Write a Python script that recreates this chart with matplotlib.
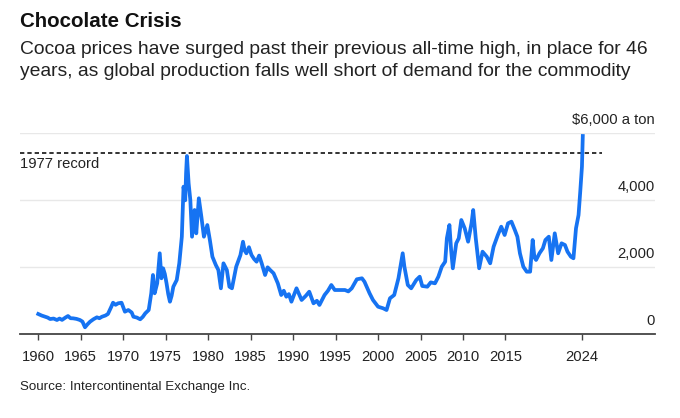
import matplotlib
matplotlib.use("Agg")
import matplotlib.pyplot as plt
import matplotlib.transforms as mtransforms

plt.rcParams['font.family'] = ['Liberation Sans', 'DejaVu Sans']

# ---- data ----
years = [1960.0, 1960.4, 1960.8, 1961.1, 1961.4, 1961.8, 1962.2, 1962.5, 1962.8, 1963.2,
         1963.5, 1963.8, 1964.1, 1964.5, 1964.9, 1965.2, 1965.5, 1965.8, 1966.1, 1966.5,
         1966.9, 1967.2, 1967.5, 1967.9, 1968.2, 1968.6, 1968.8, 1969.1, 1969.4, 1969.8,
         1970.2, 1970.6, 1971.0, 1971.2, 1971.6, 1972.0, 1972.3, 1972.6, 1973.0, 1973.3,
         1973.5, 1973.7, 1974.0, 1974.3, 1974.5, 1974.7, 1974.9, 1975.1, 1975.3, 1975.5,
         1975.7, 1975.9, 1976.3, 1976.6, 1976.9, 1977.1, 1977.3, 1977.4, 1977.5, 1977.7,
         1977.9, 1978.1, 1978.4, 1978.6, 1978.9, 1979.2, 1979.5, 1979.9, 1980.2, 1980.5,
         1980.9, 1981.2, 1981.5, 1981.8, 1982.2, 1982.5, 1982.8, 1983.3, 1983.8, 1984.1,
         1984.3, 1984.5, 1984.8, 1985.1, 1985.4, 1985.7, 1986.0, 1986.3, 1986.7, 1987.0,
         1987.3, 1987.7, 1988.2, 1988.6, 1988.9, 1989.2, 1989.5, 1989.8, 1990.4, 1991.0,
         1991.5, 1991.9, 1992.4, 1992.8, 1993.1, 1993.7, 1994.1, 1994.5, 1994.9, 1995.5,
         1996.1, 1996.5, 1996.9, 1997.5, 1998.1, 1998.4, 1999.0, 1999.4, 2000.0, 2000.6,
         2001.0, 2001.4, 2001.9, 2002.4, 2002.9, 2003.1, 2003.5, 2003.9, 2004.5, 2004.9,
         2005.2, 2005.8, 2006.2, 2006.7, 2007.1, 2007.5, 2007.9, 2008.1, 2008.4, 2008.6,
         2008.8, 2009.2, 2009.5, 2009.8, 2010.2, 2010.6, 2011.0, 2011.2, 2011.5, 2011.9,
         2012.3, 2012.8, 2013.2, 2013.6, 2014.1, 2014.5, 2014.9, 2015.3, 2015.7, 2016.1,
         2016.4, 2016.7, 2017.1, 2017.5, 2017.9, 2018.2, 2018.4, 2018.6, 2019.0, 2019.4,
         2019.7, 2020.1, 2020.4, 2020.8, 2021.2, 2021.6, 2022.0, 2022.3, 2022.7, 2023.0,
         2023.3, 2023.6, 2023.8, 2024.0, 2024.1]
prices = [606, 560, 525, 500, 456, 470, 427, 470, 430, 500,
          546, 480, 477, 460, 427, 380, 209, 300, 377, 450,
          507, 480, 525, 560, 606, 824, 943, 880, 925, 943,
          675, 725, 650, 525, 500, 448, 520, 627, 725, 1224,
          1770, 1224, 1522, 2418, 1672, 1970, 1800, 1522, 1200, 973,
          1150, 1421, 1621, 2119, 2913, 4406, 4000, 4806, 5322, 4507,
          4009, 2913, 3710, 3014, 4060, 3510, 2913, 3262, 2815, 2316,
          2069, 1919, 1373, 2119, 1919, 1421, 1373, 2018, 2367, 2764,
          2500, 2418, 2600, 2367, 2250, 2167, 2350, 2119, 1770, 2000,
          1919, 1821, 1522, 1173, 1300, 1122, 1200, 973, 1373, 1024,
          1150, 1272, 925, 1000, 875, 1173, 1300, 1472, 1322, 1322,
          1322, 1280, 1373, 1642, 1672, 1570, 1224, 1024, 824, 776,
          725, 1075, 1173, 1672, 2418, 2018, 1472, 1373, 1621, 1720,
          1442, 1421, 1550, 1522, 1720, 2018, 2167, 2866, 3262, 2516,
          1970, 2716, 2866, 3412, 3164, 2764, 3313, 3710, 2866, 1970,
          2466, 2316, 2119, 2615, 2964, 3212, 2964, 3313, 3362, 3113,
          2913, 2418, 2018, 1869, 1869, 2815, 2300, 2218, 2418, 2567,
          2815, 2913, 2218, 3014, 2418, 2716, 2665, 2466, 2316, 2269,
          3164, 3560, 4257, 5003, 5919]

record_1977 = 5400
x_ticks = [1960, 1965, 1970, 1975, 1980, 1985, 1990, 1995, 2000, 2005, 2010, 2015, 2024]
x_tick_labels = ['1960', '1965', '1970', '1975', '1980', '1985', '1990', '1995', '2000',
                 '2005', '2010', '2015', '2024']
y_grid = [0, 2000, 4000, 6000]
y_labels = ['0', '2,000', '4,000', '$6,000 a ton']

W, H = 680, 418
fig = plt.figure(figsize=(W / 100, H / 100), dpi=100)
fig.patch.set_facecolor('white')

ax_left, ax_right = 20, 655
ax_bottom, ax_top = 334.3, 133.3
ax = fig.add_axes([ax_left / W, 1 - ax_bottom / H, (ax_right - ax_left) / W,
                   (ax_bottom - ax_top) / H])
ax.set_xlim(1957.85, 2032.6)
ax.set_ylim(0, 6000)

for v in y_grid[1:]:
    ax.axhline(v, color='#e8e8e8', lw=1.0, zorder=1)

ax.plot([1957.85, 2026.4], [record_1977, record_1977], color='#111111', lw=1.2,
        dashes=(2.6, 1.8), zorder=2)

ax.plot(years, prices, color='#1673F2', lw=2.7, solid_joinstyle='round', zorder=3,
        clip_on=False)

for sp in ['top', 'right', 'left']:
    ax.spines[sp].set_visible(False)
ax.spines['bottom'].set_color('#444444')
ax.spines['bottom'].set_linewidth(1.3)

ax.set_yticks([])
ax.set_xticks(x_ticks)
ax.set_xticklabels(x_tick_labels)
ax.tick_params(axis='x', direction='out', length=4.3, width=1.0, color='#444444',
               pad=7, labelsize=10.6, labelcolor='#222222')

off = mtransforms.offset_copy(ax.get_yaxis_transform(), fig=fig, x=0, y=13, units='dots')
for v, lab in zip(y_grid, y_labels):
    ax.text(1.0, v, lab, transform=off, ha='right', va='center', fontsize=10.6,
            color='#222222')

off2 = mtransforms.offset_copy(ax.transData, fig=fig, x=0, y=-11, units='dots')
ax.text(1957.85, record_1977, '1977 record', transform=off2, ha='left', va='center',
        fontsize=10.6, color='#222222')

fig.text(20 / W, 1 - 26.7 / H, 'Chocolate Crisis', fontsize=14.8, fontweight='bold',
         ha='left', va='baseline', color='#111111')
fig.text(20 / W, 1 - 54 / H,
         'Cocoa prices have surged past their previous all-time high, in place for 46',
         fontsize=13.9, ha='left', va='baseline', color='#222222')
fig.text(20 / W, 1 - 76.5 / H,
         'years, as global production falls well short of demand for the commodity',
         fontsize=13.9, ha='left', va='baseline', color='#222222')
fig.text(20 / W, 1 - 390 / H, 'Source: Intercontinental Exchange Inc.', fontsize=9.6,
         ha='left', va='baseline', color='#222222')

fig.savefig('out.png', dpi=100, facecolor='white')
